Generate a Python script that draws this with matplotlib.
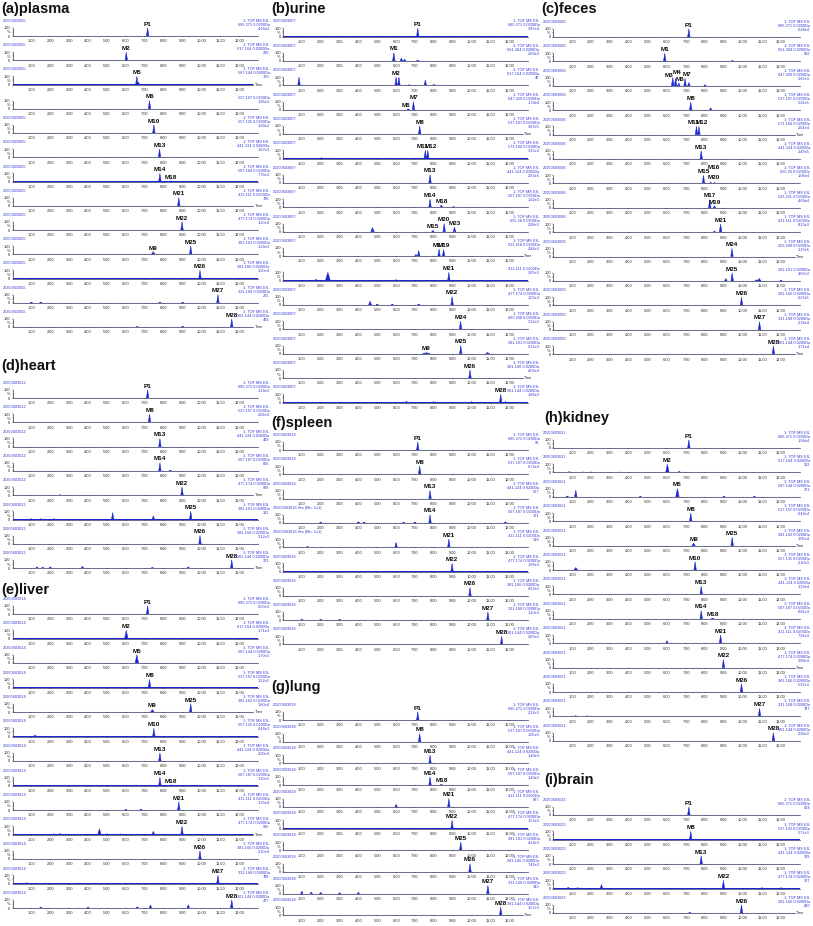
import matplotlib
matplotlib.use('Agg')
import matplotlib.pyplot as plt

plt.rcParams['font.family'] = ['Liberation Sans', 'DejaVu Sans']

TOF = '1: TOF MS ES-'

# ---------------- data: (date, right-hand text lines, peaks (rt, rel. height, label[, half width]), show "Time") -------------
plasma = [
    ('20200603005', (TOF, '685.271 0.0200Da', '4.16e3'), [(7.15, 1, 'P1')], False),
    ('20200603005', (TOF, '617.164 0.0200Da', '200'), [(6.02, 1, 'M2')], False),
    ('20200603005', (TOF, '587.144 0.0200Da', '176'), [(6.58, 1, 'M5'), (6.66, 0.3, '')], True),
    ('', ('537.197 0.0200Da', '1.86e3'), [(7.25, 1, 'M6')], False),
    ('20200603005', (TOF, '557.135 0.0200Da', '1.69e3'), [(7.48, 1, 'M10')], False),
    ('20200603005', (TOF, '441.124 0.0200Da', '1.67e3'), [(7.78, 1, 'M13')], False),
    ('20200603005', (TOF, '507.184 0.0200Da', '7.76e3'), [(7.8, 1, 'M14'), (8.4, 0.08, 'M18')], False),
    ('20200603005', (TOF, '411.111 0.0200Da', '736'), [(8.8, 1, 'M21')], True),
    ('20200603005', (TOF, '477.174 0.0200Da', '1.20e4'), [(8.97, 1, 'M22')], False),
    ('20200603005', (TOF, '381.101 0.0200Da', '1.34e3'), [(7.45, 0.3, 'M9', 0.1), (9.43, 1, 'M25')], False),
    ('20200603005', (TOF, '381.166 0.0200Da', '1.90e4'), [(9.92, 1, 'M26')], False),
    ('20200603005', (TOF, '331.168 0.0200Da', '231'), [(10.87, 1, 'M27'), (1.0, 0.08, ''), (1.5, 0.08, ''),
                                                       (7.8, 0.08, ''), (9.0, 0.06, '')], False),
    ('20200603005', (TOF, '301.144 0.0200Da', '456'), [(11.6, 1, 'M28'), (6.6, 0.06, ''), (9.0, 0.1, '')], True),
]

heart = [
    ('20200603012', (TOF, '685.271 0.0200Da', '1.19e3'), [(7.15, 1, 'P1')], False),
    ('20200603012', (TOF, '537.197 0.0200Da', '2.02e4'), [(7.25, 1, 'M8')], False),
    ('20200603012', (TOF, '441.124 0.0200Da', '499'), [(7.8, 1, 'M13')], False),
    ('20200603012', (TOF, '507.187 0.0200Da', '806'), [(7.8, 1, 'M14'), (8.35, 0.1, '')], False),
    ('20200603012', (TOF, '477.174 0.0200Da', '929'), [(8.97, 1, 'M22'), (2.5, 0.05, '')], True),
    ('20200603012', (TOF, '381.101 0.0200Da', '341'), [(9.43, 1, 'M25'), (5.3, 0.85, ''), (7.45, 0.45, ''),
                                                       (1.0, 0.1, ''), (1.5, 0.1, ''), (2.2, 0.1, '')], False),
    ('20200603012', (TOF, '381.166 0.0200Da', '3.12e3'), [(9.92, 1, 'M26')], False),
    ('20200603012', (TOF, '301.144 0.0200Da', '321'), [(11.6, 1, 'M28'), (1.3, 0.15, ''), (1.6, 0.12, ''),
                                                       (2.0, 0.15, ''), (3.7, 0.2, ''), (7.4, 0.1, ''),
                                                       (9.3, 0.15, '')], True),
]

liver = [
    ('20200603014', (TOF, '685.271 0.0200Da', '6.50e3'), [(7.15, 1, 'P1')], False),
    ('20200603014', (TOF, '617.164 0.0200Da', '1.71e3'), [(6.02, 1, 'M2', 0.09)], False),
    ('20200603014', (TOF, '587.144 0.0200Da', '1.70e3'), [(6.58, 1, 'M5', 0.09)], False),
    ('20200603014', (TOF, '537.197 0.0200Da', '1.52e5'), [(7.25, 1, 'M8')], False),
    ('20200603014', (TOF, '381.102 0.0200Da', '1.80e4'), [(7.4, 0.3, 'M9', 0.09), (9.43, 1, 'M25')], True),
    ('20200603014', (TOF, '557.135 0.0200Da', '4.48e3'), [(7.48, 1, 'M10'), (1.2, 0.15, '', 0.1)], False),
    ('20200603014', (TOF, '441.124 0.0200Da', '2.20e4'), [(7.8, 1, 'M13')], False),
    ('20200603014', (TOF, '507.187 0.0200Da', '3.10e3'), [(7.8, 1, 'M14'), (8.4, 0.08, 'M18')], False),
    ('20200603014', (TOF, '411.111 0.0200Da', '1.36e4'), [(8.8, 1, 'M21'), (6.0, 0.08, ''), (6.8, 0.1, '')], False),
    ('20200603014', (TOF, '477.174 0.0200Da', '995'), [(8.97, 1, 'M22'), (4.6, 0.7, '', 0.09), (7.45, 0.4, ''),
                                                       (2.5, 0.12, ''), (2.2, 0.08, ''), (5.0, 0.1, ''),
                                                       (5.7, 0.08, '')], True),
    ('20200603014', (TOF, '381.166 0.0200Da', '2.10e4'), [(9.92, 1, 'M26')], False),
    ('20200603014', (TOF, '331.168 0.0200Da', '798'), [(10.87, 1, 'M27'), (0.75, 0.1, '')], False),
    ('20200603014', (TOF, '301.144 0.0200Da', '477'), [(11.6, 1, 'M28'), (7.3, 0.35, ''), (9.3, 0.4, ''),
                                                       (6.6, 0.15, ''), (1.5, 0.1, ''), (4.0, 0.1, '')], False),
]

urine = [
    ('20200603007', (TOF, '685.271 0.0200Da', '3.83e4'), [(7.15, 1, 'P1')], False),
    ('20200603007', (TOF, '661.304 0.0200Da', '2.68e3'), [(5.88, 1, 'M1'), (6.28, 0.35, ''), (6.45, 0.2, ''),
                                                          (7.15, 0.1, '')], False),
    ('20200603007', (TOF, '617.164 0.0200Da', '48'), [(6.0, 1, 'M2'), (6.15, 1, ''), (0.85, 1, ''),
                                                      (7.55, 0.65, ''), (8.0, 0.1, ''), (6.7, 0.08, '')], False),
    ('20200603007', (TOF, '647.329 0.0200Da', '1.74e4'), [(6.65, 0.03, 'M6'), (6.92, 1, 'M7')], False),
    ('20200603007', (TOF, '537.197 0.0200Da', '3.87e5'), [(7.25, 1, 'M8')], True),
    ('20200603007', (TOF, '573.184 0.0200Da', '3.15e3'), [(7.55, 1, 'M11'), (7.68, 1, 'M12'), (2.05, 0.1, '')], False),
    ('20200603007', (TOF, '441.124 0.0200Da', '2.63e5'), [(7.8, 1, 'M13')], False),
    ('20200603007', (TOF, '507.187 0.0200Da', '1.62e3'), [(7.8, 1, 'M14'), (8.4, 0.3, 'M18'), (9.05, 0.1, '')], False),
    ('20200603007', (TOF, '655.26 0.0200Da', '2.98e3'), [(7.95, 0.15, 'M15'), (8.55, 1, 'M20'), (9.1, 0.55, 'M23'),
                                                         (4.75, 0.5, '', 0.09)], False),
    ('20200603007', (TOF, '523.218 0.0200Da', '2.84e3'), [(8.28, 0.85, 'M17'), (8.52, 0.8, 'M19'), (7.2, 0.7, ''),
                                                          (7.05, 0.2, '')], True),
    ('', ('411.111 0.0200Da', '3.03e3'), [(8.8, 1, 'M21'), (2.38, 1, '', 0.13), (1.75, 0.15, ''), (6.0, 0.1, '')], False),
    ('20200603007', (TOF, '477.174 0.0200Da', '1.00e4'), [(8.97, 1, 'M22'), (4.62, 0.45, '', 0.08), (5.0, 0.1, ''),
                                                          (5.8, 0.1, ''), (7.2, 0.05, '')], False),
    ('20200603007', (TOF, '493.208 0.0200Da', '3.12e3'), [(9.42, 1, 'M24')], False),
    ('20200603007', (TOF, '381.101 0.0200Da', '5.21e3'), [(7.6, 0.12, 'M9', 0.2), (9.43, 1, 'M25'),
                                                          (10.85, 0.15, '', 0.1)], False),
    ('20200603007', (TOF, '381.166 0.0200Da', '4.09e4'), [(9.92, 1, 'M26')], True),
    ('20200603007', (TOF, '301.144 0.0200Da', '1.86e3'), [(11.55, 1, 'M28'), (6.55, 0.15, ''), (8.0, 0.1, ''),
                                                          (10.0, 0.1, ''), (11.8, 0.12, '')], False),
]

spleen = [
    ('20200603016', (TOF, '685.271 0.0200Da', '93'), [(7.15, 1, 'P1')], False),
    ('20200603016', (TOF, '537.197 0.0200Da', '6.73e4'), [(7.25, 1, 'M8')], False),
    ('20200603016', (TOF, '441.124 0.0200Da', '527'), [(7.8, 1, 'M13')], False),
    ('20200603016 Sm (Mn, 1x1)', (TOF, '507.187 0.0200Da', '171'), [(7.8, 1, 'M14'), (2.0, 0.1, ''), (4.0, 0.15, ''),
                                                                     (4.3, 0.12, ''), (6.4, 0.1, ''), (7.0, 0.1, ''),
                                                                     (11.8, 0.12, '')], False),
    ('20200603016 Sm (Mn, 1x1)', (TOF, '411.111 0.0200Da', '316'), [(8.8, 1, 'M21'), (6.0, 0.6, ''), (1.3, 0.1, '')], False),
    ('20200603016', (TOF, '477.174 0.0200Da', '1.99e3'), [(8.97, 1, 'M22')], False),
    ('20200603016', (TOF, '381.166 0.0200Da', '4.52e3'), [(9.92, 1, 'M26')], False),
    ('20200603016', (TOF, '331.168 0.0200Da', '1.20e3'), [(10.87, 1, 'M27'), (1.0, 0.1, ''), (2.0, 0.1, ''),
                                                          (3.0, 0.1, '')], False),
    ('20200603016', (TOF, '301.144 0.0200Da', '2.07e3'), [(11.6, 1, 'M28')], False),
]

lung = [
    ('20200603018', (TOF, '685.271 0.0200Da', '2.32e3'), [(7.15, 1, 'P1')], False),
    ('20200603018', (TOF, '537.197 0.0200Da', '1.05e5'), [(7.25, 1, 'M8')], False),
    ('20200603018', (TOF, '441.124 0.0200Da', '1.40e3'), [(7.8, 1, 'M13')], False),
    ('20200603018', (TOF, '507.187 0.0200Da', '1.40e3'), [(7.8, 1, 'M14'), (8.4, 0.1, 'M18')], False),
    ('20200603018', (TOF, '411.111 0.0200Da', '827'), [(8.8, 1, 'M21'), (6.0, 0.3, '')], False),
    ('20200603018', (TOF, '477.174 0.0200Da', '1.52e3'), [(8.97, 1, 'M22')], False),
    ('20200603018', (TOF, '381.101 0.0200Da', '4.28e3'), [(9.43, 1, 'M25')], False),
    ('20200603018', (TOF, '381.166 0.0200Da', '7.42e3'), [(9.92, 1, 'M26')], False),
    ('20200603018', (TOF, '331.168 0.0200Da', '343'), [(10.87, 1, 'M27'), (1.0, 0.3, ''), (1.5, 0.2, ''),
                                                       (2.0, 0.15, ''), (3.0, 0.1, ''), (4.0, 0.15, '')], False),
    ('20200603018', (TOF, '301.144 0.0200Da', '1.57e3'), [(11.55, 1, 'M28')], True),
]

feces = [
    ('20200603006', (TOF, '685.271 0.0200Da', '6.48e4'), [(7.15, 1, 'P1')], False),
    ('20200603006', (TOF, '661.304 0.0200Da', '982'), [(5.88, 1, 'M1'), (9.45, 0.15, '')], False),
    ('20200603006', (TOF, '647.329 0.0200Da', '2.62e3'), [(6.3, 1, 'M3'), (6.45, 0.9, 'M4'), (6.62, 0.35, 'M6'),
                                                          (6.95, 0.9, 'M7'), (7.15, 0.4, ''), (8.0, 0.12, '')], False),
    ('20200603006', (TOF, '537.197 0.0200Da', '5.24e5'), [(7.25, 1, 'M8'), (8.3, 0.3, '')], False),
    ('20200603006', (TOF, '573.184 0.0200Da', '2.04e4'), [(7.55, 1, 'M11'), (7.68, 1, 'M12')], True),
    ('20200603006', (TOF, '441.124 0.0200Da', '2.49e5'), [(7.8, 1, 'M13')], False),
    ('20200603006', (TOF, '655.26 0.0200Da', '1.06e4'), [(7.92, 1, 'M15'), (8.3, 0.15, 'M16'), (8.5, 0.1, 'M20')], False),
    ('20200603006', (TOF, '523.221 0.0200Da', '4.69e4'), [(8.25, 1, 'M17'), (8.5, 0.25, 'M19')], False),
    ('20200603006', (TOF, '411.111 0.0200Da', '8.13e3'), [(8.82, 1, 'M21'), (8.5, 0.15, '')], False),
    ('20200603006', (TOF, '493.208 0.0200Da', '1.29e5'), [(9.42, 1, 'M24')], True),
    ('', ('381.101 0.0200Da', '4.07e3'), [(9.43, 1, 'M25'), (9.1, 0.3, ''), (10.85, 0.3, '', 0.1),
                                          (10.7, 0.15, ''), (12.0, 0.1, '')], False),
    ('20200603009', (TOF, '381.166 0.0200Da', '2.27e5'), [(9.92, 1, 'M26')], False),
    ('20200603009', (TOF, '331.168 0.0200Da', '2.18e4'), [(10.87, 1, 'M27')], False),
    ('20200603009', (TOF, '301.144 0.0200Da', '1.71e4'), [(11.6, 1, 'M28')], True),
]

kidney = [
    ('20200603021', (TOF, '685.271 0.0200Da', '1.04e4'), [(7.15, 1, 'P1')], False),
    ('20200603021', (TOF, '617.164 0.0200Da', '222'), [(6.02, 1, 'M2', 0.09), (6.65, 0.15, ''), (0.85, 0.1, ''),
                                                       (1.6, 0.06, ''), (2.0, 0.06, ''), (3.5, 0.05, '')], False),
    ('20200603021', (TOF, '587.144 0.0200Da', '271'), [(6.55, 1, 'M5', 0.09), (1.2, 0.8, ''), (0.75, 0.1, ''),
                                                       (4.6, 0.06, ''), (9.0, 0.06, ''), (10.6, 0.06, '')], False),
    ('20200603021', (TOF, '537.197 0.0200Da', '8.44e4'), [(7.25, 1, 'M8')], False),
    ('20200603021', (TOF, '381.102 0.0200Da', '1.05e4'), [(7.4, 0.3, 'M9', 0.09), (9.43, 1, 'M25')], True),
    ('20200603021', (TOF, '557.135 0.0200Da', '2.10e3'), [(7.48, 1, 'M10'), (1.2, 0.3, '', 0.1)], False),
    ('20200603021', (TOF, '441.124 0.0200Da', '1.29e4'), [(7.8, 1, 'M13')], False),
    ('20200603021', (TOF, '507.187 0.0200Da', '6.81e3'), [(7.8, 1, 'M14'), (8.4, 0.04, 'M18')], False),
    ('20200603021', (TOF, '411.111 0.0200Da', '7.24e3'), [(8.82, 1, 'M21'), (6.0, 0.3, '')], False),
    ('20200603021', (TOF, '477.174 0.0200Da', '2.09e4'), [(8.97, 1, 'M22')], True),
    ('20200603021', (TOF, '381.166 0.0200Da', '5.33e3'), [(9.92, 1, 'M26')], False),
    ('20200603021', (TOF, '331.168 0.0200Da', '797'), [(10.87, 1, 'M27'), (1.2, 0.1, ''), (1.8, 0.08, '')], False),
    ('20200603021', (TOF, '301.144 0.0200Da', '2.26e3'), [(11.6, 1, 'M28')], False),
]

brain = [
    ('20200603023', (TOF, '685.271 0.0200Da', '474'), [(7.15, 1, 'P1')], False),
    ('20200603023', (TOF, '537.193 0.0200Da', '5.73e3'), [(7.25, 1, 'M8')], False),
    ('20200603023', (TOF, '441.124 0.0200Da', '329'), [(7.8, 1, 'M13')], False),
    ('20200603023', (TOF, '477.174 0.0200Da', '227'), [(8.97, 1, 'M22'), (2.55, 0.5, ''), (0.8, 0.15, ''),
                                                       (1.3, 0.1, ''), (11.0, 0.1, ''), (12.0, 0.1, '')], False),
    ('20200603023', (TOF, '381.166 0.0200Da', '460'), [(9.92, 1, 'M26'), (7.2, 0.08, '')], True),
]

x_tick_values = list(range(1, 13))
x_tick_labels = ['%d.00' % v for v in x_tick_values]

# ---------------- layout (pixels) ----------------
W, H = 813, 926
# column: (pixel of t=0, pixels per minute, right edge of annotation text)
COLS = {1: (12.5, 18.9, 269.5), 2: (283.0, 18.85, 539.5), 3: (553.0, 19.0, 810.0)}
# panel: (strips, title, column, title x, title y, first baseline y, spacing)
PANELS = [
    (plasma, '(a)plasma', 1, 1, 9, 36.0, 24.25),
    (heart, '(d)heart', 1, 1, 366, 398.0, 24.3),
    (liver, '(e)liver', 1, 1, 590, 614.0, 24.5),
    (urine, '(b)urine', 2, 271, 9, 36.5, 24.4),
    (spleen, '(f)spleen', 2, 271, 423, 450.0, 24.3),
    (lung, '(g)lung', 2, 271, 687, 720.0, 21.7),
    (feces, '(c)feces', 3, 541, 9, 37.0, 24.4),
    (kidney, '(h)kidney', 3, 544, 418, 448.0, 24.4),
    (brain, '(i)brain', 3, 544, 780, 815.0, 24.5),
]
# label nudges in points for crowded peaks: (panel title, strip index, label) -> (dx, dy)
NUDGE = {
    ('(c)feces', 2, 'M3'): (-2.4, -1.0),
    ('(c)feces', 2, 'M4'): (0.7, 1.9),
    ('(c)feces', 2, 'M6'): (0.9, 0.0),
    ('(c)feces', 2, 'M7'): (1.6, 0.3),
    ('(c)feces', 6, 'M16'): (1.9, 8.0),
    ('(c)feces', 6, 'M20'): (-0.6, 0.7),
    ('(b)urine', 3, 'M6'): (-1.7, 0.0),
    ('(b)urine', 5, 'M11'): (-2.2, 0.0),
    ('(b)urine', 5, 'M12'): (2.2, 0.0),
    ('(c)feces', 4, 'M11'): (-2.2, 0.0),
    ('(c)feces', 4, 'M12'): (2.2, 0.0),
    ('(b)urine', 8, 'M20'): (0.0, 0.5),
}

TRACE = '#1a28d0'
TXT = '#3438d6'
FS_SMALL = 2.8

fig = plt.figure(figsize=(W / 100, H / 100), dpi=100)


def fy(y):
    return 1 - y / H


def draw_strip(key, idx, col, yb, strip):
    date, rtext, peaks, show_time = strip
    x0, unit, xr = COLS[col]
    ax = fig.add_axes([x0 / W, (H - yb) / H, 13 * unit / W, 9.0 / H])
    ax.patch.set_alpha(0)
    ax.set_xlim(0, 13.0)
    ax.set_ylim(0, 110)
    end = 12.75 if show_time else 13.0
    ax.plot([0.02, end], [0.8, 0.8], color=TRACE, lw=0.75, solid_capstyle='butt')
    for pk in peaks:
        rt, h, lab = pk[0], pk[1], pk[2]
        w = pk[3] if len(pk) > 3 else 0.065
        ax.fill([rt - w, rt, rt + w], [0, h * 100, 0], color=TRACE, lw=0.35)
        if lab:
            dx, dy = NUDGE.get((key, idx, lab), (0.0, 0.0))
            ax.annotate(lab, (rt, h * 100), xytext=(dx, 0.9 + dy), textcoords='offset points',
                        ha='center', va='bottom', fontsize=4.6, fontweight='bold', color='#0a0a0a')
    for s in ('top', 'right'):
        ax.spines[s].set_visible(False)
    ax.spines['left'].set_linewidth(0.45)
    ax.spines['left'].set_bounds(0, 100)
    ax.spines['bottom'].set_linewidth(0.45)
    ax.spines['bottom'].set_bounds(0, end)
    ax.spines['left'].set_color('#1a1a3a')
    ax.spines['bottom'].set_color('#1a1a55')
    ax.set_xticks(x_tick_values)
    ax.set_xticklabels(x_tick_labels)
    ax.set_yticks([0, 50, 100])
    ax.set_yticklabels(['0', '%', '100'])
    ax.tick_params(axis='both', labelsize=FS_SMALL, length=1.0, width=0.3, pad=0.6, colors='#222222')
    ax.tick_params(axis='x', pad=1.4)
    if show_time:
        ax.text(12.8, 0, 'Time', fontsize=FS_SMALL, ha='left', va='center', color='#222222')
    if date:
        fig.text((x0 - 10) / W, fy(yb - 15), date, fontsize=FS_SMALL, color=TXT, ha='left', va='center')
    lines = list(rtext)
    for k, line in enumerate(lines):
        pos = 3 - len(lines) + k
        fig.text(xr / W, fy(yb - 15 + 4 * pos), line, fontsize=FS_SMALL, color=TXT, ha='right', va='center')


for strips, title, col, tx, ty, y0, dy in PANELS:
    fig.text(tx / W, fy(ty), title, fontsize=10.5, fontweight='bold', ha='left', va='center', color='#111111')
    for i, st in enumerate(strips):
        draw_strip(title, i, col, y0 + i * dy, st)

fig.savefig('out.png', dpi=100)
